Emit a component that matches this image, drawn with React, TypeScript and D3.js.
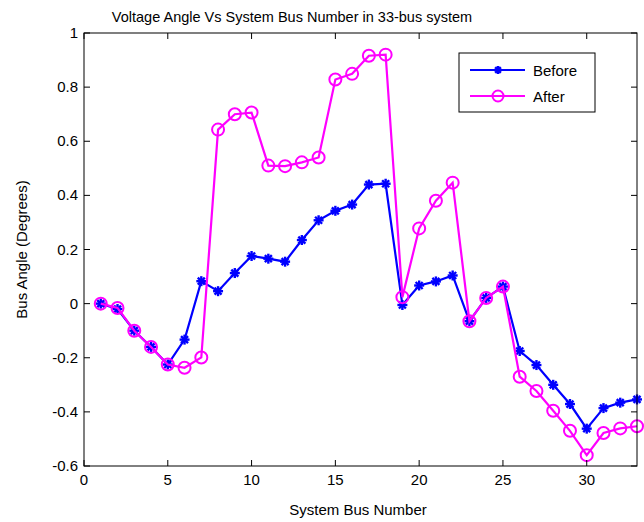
import React from 'react';
import * as d3 from 'd3';

const busNumbers = d3.range(1, 34);
const before = [
  0, -0.02, -0.1, -0.16, -0.225, -0.133, 0.083, 0.046, 0.113, 0.176,
  0.166, 0.155, 0.235, 0.308, 0.343, 0.366, 0.44, 0.443, -0.005, 0.067,
  0.082, 0.104, -0.065, 0.021, 0.063, -0.175, -0.227, -0.3, -0.371, -0.462,
  -0.386, -0.366, -0.354,
];
const after = [
  0, -0.016, -0.1, -0.16, -0.225, -0.237, -0.199, 0.643, 0.7, 0.706,
  0.51, 0.508, 0.522, 0.54, 0.828, 0.849, 0.916, 0.92, 0.024, 0.278,
  0.38, 0.447, -0.065, 0.021, 0.063, -0.27, -0.323, -0.396, -0.47, -0.56,
  -0.478, -0.461, -0.453,
];
const xTicks = [0, 5, 10, 15, 20, 25, 30];
const yTicks = [-0.6, -0.4, -0.2, 0, 0.2, 0.4, 0.6, 0.8, 1];

const W = 644;
const H = 522;
const left = 84;
const right = 637;
const top = 33;
const bottom = 466;
const font = '"Liberation Sans", Arial, sans-serif';

const Star = ({ x, y, s }: { x: number; y: number; s: number }) => (
  <g stroke="#0000ff" strokeWidth={2.4} strokeLinecap="butt">
    <line x1={x - s} y1={y} x2={x + s} y2={y} />
    <line x1={x} y1={y - s} x2={x} y2={y + s} />
    <line x1={x - s * 0.7} y1={y - s * 0.7} x2={x + s * 0.7} y2={y + s * 0.7} />
    <line x1={x - s * 0.7} y1={y + s * 0.7} x2={x + s * 0.7} y2={y - s * 0.7} />
  </g>
);

export default function App() {
  const x = d3.scaleLinear().domain([0, 33]).range([left, right]);
  const y = d3.scaleLinear().domain([-0.6, 1]).range([bottom, top]);
  const line = d3.line<number>().x((_, i) => x(busNumbers[i])).y((d) => y(d));

  return (
    <svg width={W} height={H} style={{ position: 'absolute', left: 0, top: 0, background: '#fff' }}>
      <rect x={0} y={0} width={W} height={H} fill="#fff" />
      <text x={292} y={22} textAnchor="middle" fontFamily={font} fontSize={14.5} fill="#000">
        Voltage Angle Vs System Bus Number in 33-bus system
      </text>

      {/* series */}
      <path d={line(before) || ''} fill="none" stroke="#0000ff" strokeWidth={2.2} />
      {before.map((v, i) => (
        <Star key={'b' + i} x={x(busNumbers[i])} y={y(v)} s={5} />
      ))}
      <path d={line(after) || ''} fill="none" stroke="#ff00ff" strokeWidth={2.2} />
      {after.map((v, i) => (
        <circle key={'a' + i} cx={x(busNumbers[i])} cy={y(v)} r={6} fill="none" stroke="#ff00ff" strokeWidth={2} />
      ))}

      {/* axes box */}
      <rect x={left} y={top} width={right - left} height={bottom - top} fill="none" stroke="#000" strokeWidth={1} />
      {xTicks.map((t) => (
        <g key={'x' + t}>
          <line x1={x(t)} x2={x(t)} y1={bottom} y2={bottom - 6} stroke="#000" />
          <line x1={x(t)} x2={x(t)} y1={top} y2={top + 6} stroke="#000" />
          <text x={x(t)} y={bottom + 19} textAnchor="middle" fontFamily={font} fontSize={15} fill="#000">
            {t}
          </text>
        </g>
      ))}
      {yTicks.map((t) => (
        <g key={'y' + t}>
          <line x1={left} x2={left + 6} y1={y(t)} y2={y(t)} stroke="#000" />
          <line x1={right} x2={right - 6} y1={y(t)} y2={y(t)} stroke="#000" />
          <text x={left - 6} y={y(t) + 5} textAnchor="end" fontFamily={font} fontSize={15} fill="#000">
            {d3.format('~g')(t).replace('−', '-')}
          </text>
        </g>
      ))}
      <text x={358} y={515} textAnchor="middle" fontFamily={font} fontSize={15} fill="#000">
        System Bus Number
      </text>
      <text
        transform={`translate(27,${(top + bottom) / 2}) rotate(-90)`}
        textAnchor="middle"
        fontFamily={font}
        fontSize={15}
        fill="#000"
      >
        Bus Angle (Degrees)
      </text>

      {/* legend */}
      <rect x={459} y={53} width={136} height={59} fill="#fff" stroke="#000" strokeWidth={1} />
      <line x1={470} x2={525} y1={70} y2={70} stroke="#0000ff" strokeWidth={2.2} />
      <Star x={498} y={70} s={4} />
      <text x={533} y={76} fontFamily={font} fontSize={15} fill="#000">Before</text>
      <line x1={470} x2={525} y1={96} y2={96} stroke="#ff00ff" strokeWidth={2.2} />
      <circle cx={498} cy={96} r={5.5} fill="none" stroke="#ff00ff" strokeWidth={2} />
      <text x={533} y={102} fontFamily={font} fontSize={15} fill="#000">After</text>
    </svg>
  );
}
